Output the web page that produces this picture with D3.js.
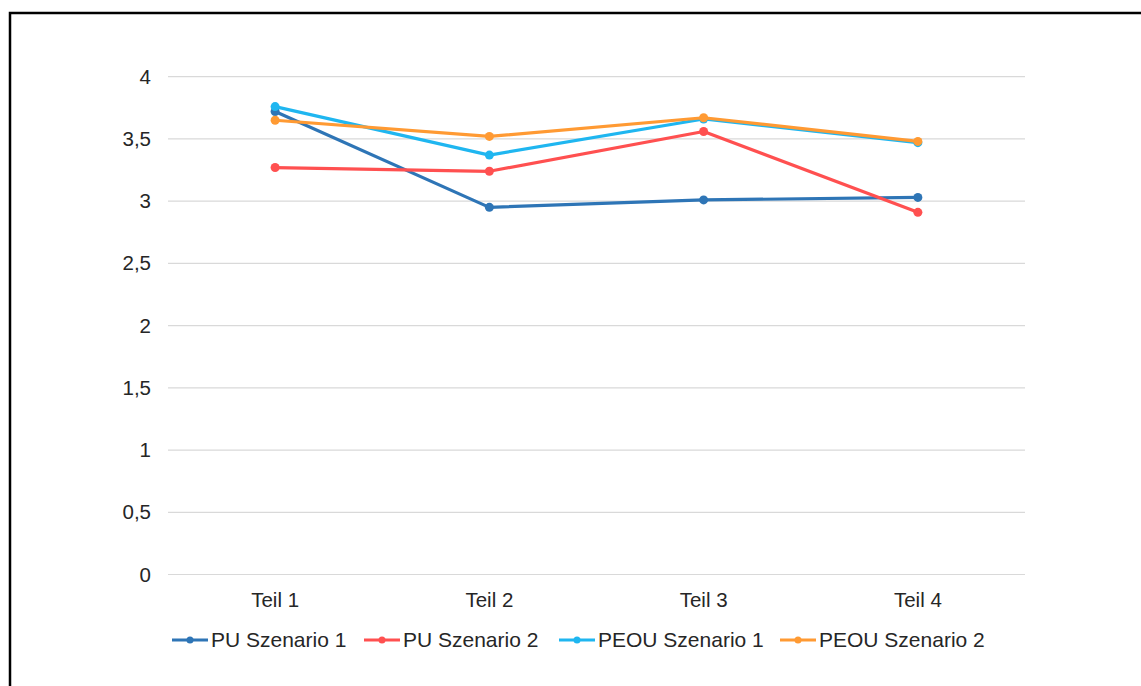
<!DOCTYPE html>
<html>
<head>
<meta charset="utf-8">
<script src="https://cdn.jsdelivr.net/npm/d3@7"></script>
<style>
  body { margin: 0; background: #fff; }
  svg { display: block; font-family: "Liberation Sans", Arial, sans-serif; }
</style>
</head>
<body>
<svg id="chart" width="1141" height="686"></svg>
<script>
const categories = ['Teil 1', 'Teil 2', 'Teil 3', 'Teil 4'];
const seriesNames = ['PU Szenario 1', 'PU Szenario 2', 'PEOU Szenario 1', 'PEOU Szenario 2'];
const puSzenario1 = [3.72, 2.95, 3.01, 3.03];
const puSzenario2 = [3.27, 3.24, 3.56, 2.91];
const peouSzenario1 = [3.76, 3.37, 3.66, 3.47];
const peouSzenario2 = [3.65, 3.52, 3.67, 3.48];
const yTicks = [0, 0.5, 1, 1.5, 2, 2.5, 3, 3.5, 4];
const colors = ['#2E75B6', '#FF5050', '#1FB6F0', '#FF9A33'];

const series = [puSzenario1, puSzenario2, peouSzenario1, peouSzenario2].map((values, i) => ({
  name: seriesNames[i],
  color: colors[i],
  values: values.map((v, j) => ({ cat: categories[j], v }))
}));

const svg = d3.select('#chart');
const plot = { left: 168, right: 1025, top: 76.7, bottom: 574.5 };

// frame
svg.append('rect')
  .attr('x', 10).attr('y', 13)
  .attr('width', 1200).attr('height', 800)
  .attr('fill', 'none').attr('stroke', '#000').attr('stroke-width', 2.5);

const x = d3.scaleBand().domain(categories).range([plot.left, plot.right]);
const y = d3.scaleLinear().domain([0, 4]).range([plot.bottom, plot.top]);
const fmt = d => String(d).replace('.', ',');

// gridlines
svg.append('g')
  .selectAll('line')
  .data(yTicks)
  .enter()
  .append('line')
  .attr('x1', plot.left).attr('x2', plot.right)
  .attr('y1', d => y(d)).attr('y2', d => y(d))
  .attr('stroke', '#d9d9d9').attr('stroke-width', 1.2);

// y labels
const yAxis = d3.axisLeft(y).tickValues(yTicks).tickFormat(fmt).tickSize(0).tickPadding(17);
const gy = svg.append('g').attr('transform', `translate(${plot.left},0)`).call(yAxis);
gy.select('.domain').remove();
gy.selectAll('text').attr('font-size', 20.5).attr('fill', '#262626').attr('font-family', '"Liberation Sans", Arial, sans-serif');

// x labels
const xAxis = d3.axisBottom(x).tickSize(0).tickPadding(18);
const gx = svg.append('g').attr('transform', `translate(0,${plot.bottom})`).call(xAxis);
gx.select('.domain').remove();
gx.selectAll('text').attr('font-size', 20.5).attr('fill', '#262626').attr('font-family', '"Liberation Sans", Arial, sans-serif');

const line = d3.line()
  .x(d => x(d.cat) + x.bandwidth() / 2)
  .y(d => y(d.v));

const lines = svg.append('g');
series.forEach(s => {
  lines.append('path')
    .attr('d', line(s.values))
    .attr('fill', 'none')
    .attr('stroke', s.color)
    .attr('stroke-width', 3.2)
    .attr('stroke-linejoin', 'round');
  lines.selectAll(null)
    .data(s.values)
    .enter()
    .append('circle')
    .attr('cx', d => x(d.cat) + x.bandwidth() / 2)
    .attr('cy', d => y(d.v))
    .attr('r', 4.5)
    .attr('fill', s.color);
});

// legend
const legendX = [172, 364, 559, 780];
const legendY = 640;
const legend = svg.append('g');
series.forEach((s, i) => {
  const g = legend.append('g').attr('transform', `translate(${legendX[i]},${legendY})`);
  g.append('line').attr('x1', 0).attr('x2', 36).attr('y1', 0).attr('y2', 0)
    .attr('stroke', s.color).attr('stroke-width', 3.2);
  g.append('circle').attr('cx', 18).attr('cy', 0).attr('r', 3.5).attr('fill', s.color);
  g.append('text').attr('x', 39).attr('y', 0).attr('dy', '0.35em')
    .attr('font-size', 21).attr('fill', '#262626')
    .text(s.name);
});
</script>
</body>
</html>
